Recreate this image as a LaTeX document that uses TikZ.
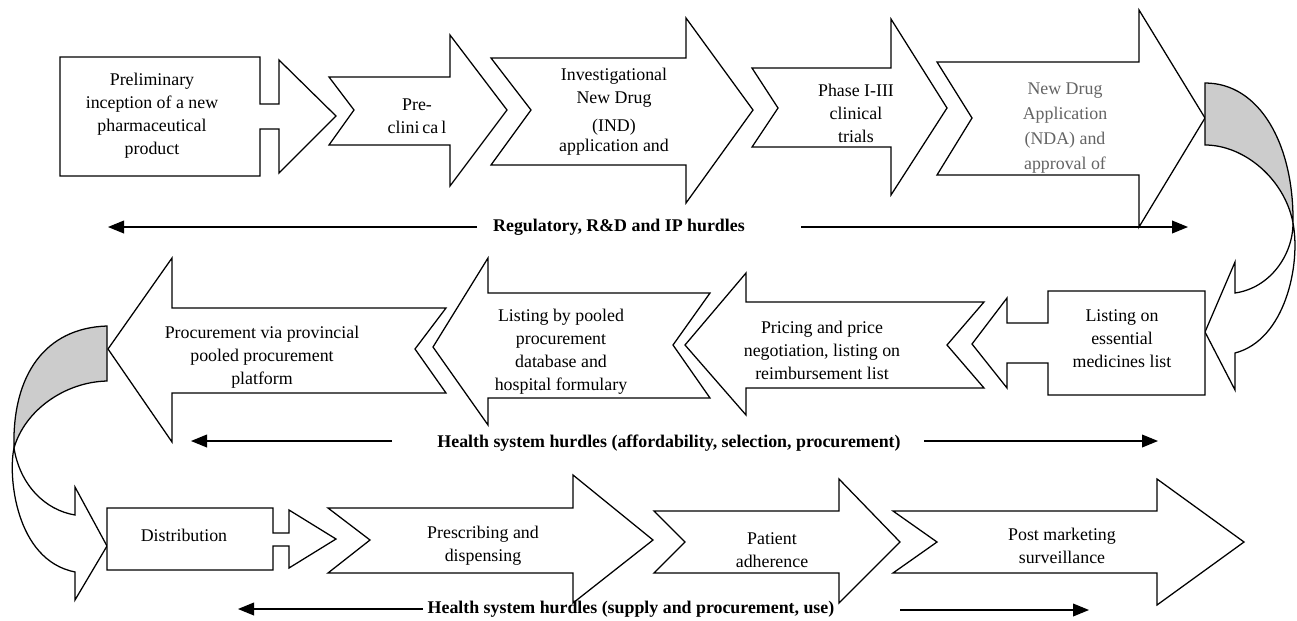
\documentclass[tikz,border=0pt]{standalone}
\usepackage{fontspec}
\setmainfont{Liberation Serif}
\usepackage{tikz}
\usetikzlibrary{arrows.meta}
\definecolor{ribbongray}{RGB}{204,204,204}
\definecolor{ndatext}{RGB}{100,100,100}
\tikzstyle{block} = [draw=black, line width=0.9pt, fill=white, line join=miter]
\tikzstyle{ribbon} = [draw=black, line width=0.9pt, fill=ribbongray, line join=miter]
\tikzstyle{txt} = [align=center, inner sep=0pt, font=\fontsize{12.7}{16.3}\selectfont]
\tikzstyle{hurdletxt} = [inner sep=0pt, font=\fontsize{12.7}{15}\selectfont\bfseries]
\tikzstyle{arrow} = [line width=0.85pt, -{Triangle[length=0.4cm,width=0.32cm]}]

\begin{document}
\begin{tikzpicture}[x=0.025cm, y=-0.025cm]
    \useasboundingbox (0,0) rectangle (1297,620);

    % first row
    \draw[block] (60,57) -- (260,57) -- (260,104) -- (279,104) -- (279,60) -- (336,116) -- (279,173) -- (279,129) -- (260,129) -- (260,176) -- (60,176) -- cycle;
    \draw[block] (329,77) -- (450,77) -- (450,35) -- (507,110) -- (450,186) -- (450,145) -- (329,145) -- (354,110) -- cycle;
    \draw[block] (491,58) -- (686,58) -- (686,18) -- (753,110) -- (686,203) -- (686,165) -- (491,165) -- (531,110) -- cycle;
    \draw[block] (752,68) -- (891,68) -- (891,19) -- (947,108) -- (891,195) -- (891,147) -- (752,147) -- (778,108) -- cycle;
    \draw[block] (937,62) -- (1139,62) -- (1139,10) -- (1205,118) -- (1139,227) -- (1139,175) -- (937,175) -- (972,118) -- cycle;

    \node (PRELt) [txt] at (152,116) {Preliminary\\inception of a new\\pharmaceutical\\product};
    \node (PRECt) [txt] at (417,116) {Pre-\\clini\,ca\,l};
    \node (INDt) [txt] at (614,112) {Investigational\\New Drug\\[3.5pt](IND)\\[-2pt]application and};
    \node (PHASEt) [txt] at (856,113) {Phase I-III\\clinical\\trials};
    \node (NDAt) [txt, text=ndatext] at (1065,128) {New Drug\\[1pt]Application\\[1.5pt](NDA) and\\[1.5pt]approval of};

    % ribbon on the right
    \draw[block] (1293,223) .. controls (1293,255) and (1270,288) .. (1235,293) -- (1235,262) -- (1205,332) -- (1235,390) -- (1235,353) .. controls (1285,340) and (1301,265) .. (1293,223) -- cycle;
    \draw[ribbon] (1205,83) .. controls (1260,83) and (1294,145) .. (1293,223) .. controls (1285,180) and (1245,145) .. (1205,145) -- cycle;

    % second row
    \draw[block] (1205,291) -- (1048,291) -- (1048,323) -- (1007,323) -- (1007,298) -- (972,344) -- (1007,388) -- (1007,363) -- (1048,363) -- (1048,395) -- (1205,395) -- cycle;
    \draw[block] (984,302) -- (746,302) -- (746,273) -- (685,345) -- (746,415) -- (746,388) -- (984,388) -- (947,345) -- cycle;
    \draw[block] (710,293) -- (488,293) -- (488,258) -- (433,347) -- (488,425) -- (488,398) -- (710,398) -- (673,345) -- cycle;
    \draw[block] (446,308) -- (172,308) -- (172,258) -- (108,349) -- (172,442) -- (172,393) -- (446,393) -- (415,349) -- cycle;

    \node (EMLt) [txt] at (1122,339) {Listing on\\essential\\medicines list};
    \node (PRICEt) [txt] at (822,350) {Pricing and price\\negotiation, listing on\\reimbursement list};
    \node (POOLt) [txt] at (561,352) {Listing by pooled\\procurement\\database and\\hospital formulary};
    \node (PROCt) [txt] at (262,357) {Procurement via provincial\\pooled procurement\\platform};

    % ribbon on the left
    \draw[block] (14,448) .. controls (20,485) and (45,510) .. (75,515) -- (75,487) -- (107,546) -- (75,600) -- (75,572) .. controls (15,560) and (8,475) .. (14,448) -- cycle;
    \draw[ribbon] (107,326) .. controls (45,328) and (12,375) .. (14,448) .. controls (25,410) and (65,382) .. (107,381) -- cycle;

    % third row
    \draw[block] (107,508) -- (273,508) -- (273,533) -- (289,533) -- (289,510) -- (336,539) -- (289,568) -- (289,546) -- (273,546) -- (273,570) -- (107,570) -- cycle;
    \draw[block] (328,508) -- (573,508) -- (573,475) -- (653,540) -- (573,603) -- (573,573) -- (328,573) -- (370,540) -- cycle;
    \draw[block] (654,511) -- (839,511) -- (839,479) -- (900,542) -- (839,603) -- (839,573) -- (654,573) -- (685,542) -- cycle;
    \draw[block] (893,511) -- (1157,511) -- (1157,479) -- (1244,542) -- (1157,605) -- (1157,573) -- (893,573) -- (937,542) -- cycle;

    \node (DISTt) [txt] at (184,535) {Distribution};
    \node (PRESCt) [txt] at (483,546) {Prescribing and\\dispensing};
    \node (ADHt) [txt] at (772,550) {Patient\\adherence};
    \node (PMSt) [txt] at (1062,546) {Post marketing\\surveillance};

    % hurdles
    \node (REGt) [hurdletxt] at (619,227) {Regulatory, R\&D and IP hurdles};
    \coordinate (REGa) at (477,227);
    \coordinate (REGb) at (108,227);
    \coordinate (REGc) at (801,227);
    \coordinate (REGd) at (1188,227);
    \draw[arrow] (REGa) -- (REGb);
    \draw[arrow] (REGc) -- (REGd);

    \node (HSAt) [hurdletxt] at (669,443) {Health system hurdles (affordability, selection, procurement)};
    \coordinate (HSAa) at (392,441);
    \coordinate (HSAb) at (191,441);
    \coordinate (HSAc) at (924,441);
    \coordinate (HSAd) at (1158,441);
    \draw[arrow] (HSAa) -- (HSAb);
    \draw[arrow] (HSAc) -- (HSAd);

    \node (HSSt) [hurdletxt] at (631,609) {Health system hurdles (supply and procurement, use)};
    \coordinate (HSSa) at (423,609);
    \coordinate (HSSb) at (238,609);
    \coordinate (HSSc) at (900,610);
    \coordinate (HSSd) at (1089,610);
    \draw[arrow] (HSSa) -- (HSSb);
    \draw[arrow] (HSSc) -- (HSSd);

\end{tikzpicture}
\end{document}
